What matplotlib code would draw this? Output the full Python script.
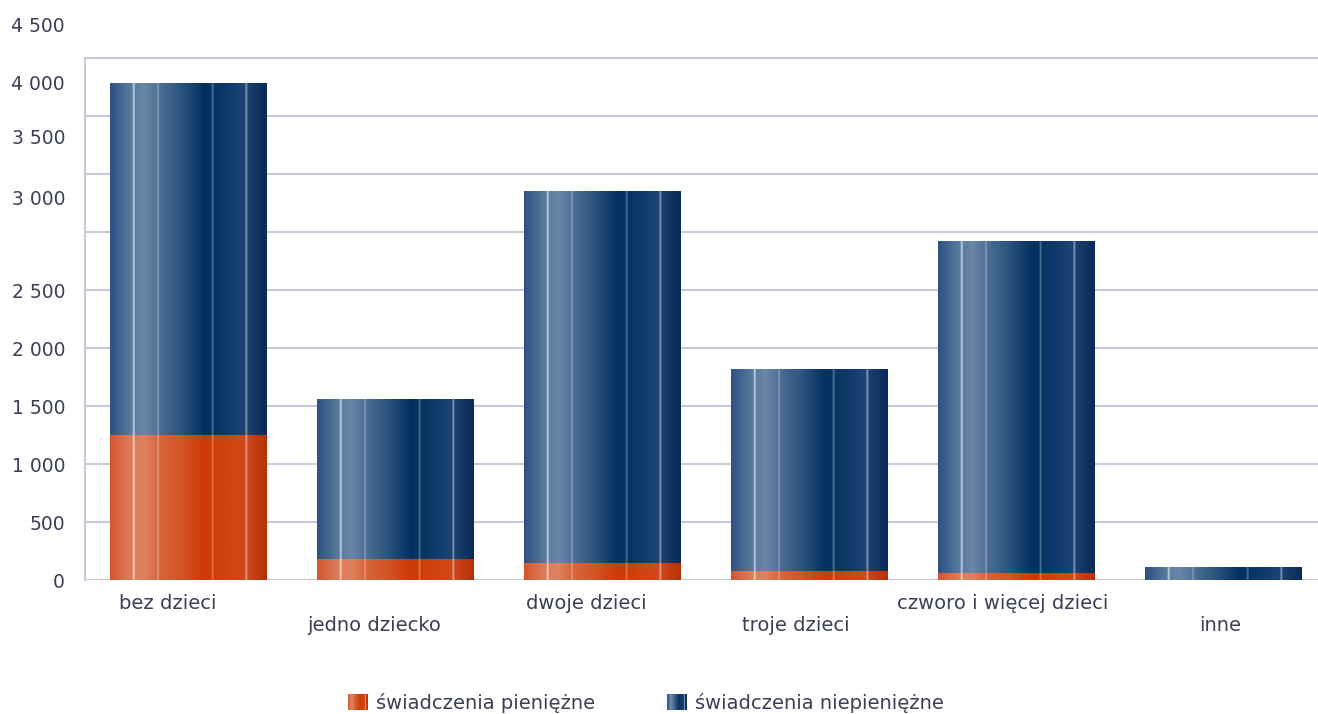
import numpy as np
import matplotlib
matplotlib.use("Agg")
import matplotlib.pyplot as plt
from matplotlib.colors import LinearSegmentedColormap
from matplotlib.legend_handler import HandlerBase
from matplotlib.patches import Rectangle
from matplotlib.transforms import offset_copy

# data (vertical scale = one gridline per 500)
categories = ["bez dzieci", "jedno dziecko", "dwoje dzieci", "troje dzieci",
              "czworo i więcej dzieci", "inne"]
pieniezne = [1250, 181, 147, 78, 60, 0]
niepieniezne = [3026, 1379, 3206, 1741, 2862, 112]
series_names = ["świadczenia pieniężne", "świadczenia niepieniężne"]

grid_vals = [0, 500, 1000, 1500, 2000, 2500, 3000, 3500, 4000, 4500]
tick_pos = [0, 500, 1000, 1500, 2000, 2500, 3300, 3820, 4290, 4790]
tick_labels = ["0", "500", "1 000", "1 500", "2 000", "2 500",
               "3 000", "3 500", "4 000", "4 500"]

TEXT = "#3b3f57"
GRID = "#c8c8da"
FS = 14

# horizontal gradient "cylinder" look with thin light stripes
blue_stops = [(0.0, "#2d5282"), (0.12, "#55779d"), (0.22, "#6a87a8"),
              (0.30, "#4f7196"), (0.45, "#2b5480"), (0.60, "#04305f"),
              (0.75, "#0e3a6b"), (0.86, "#1d4474"), (1.0, "#082b57")]
orange_stops = [(0.0, "#d4562f"), (0.12, "#dd7a58"), (0.22, "#df8160"),
                (0.30, "#d8673e"), (0.45, "#d45426"), (0.60, "#cc3a06"),
                (0.75, "#d0440f"), (0.86, "#d04a1c"), (1.0, "#b93106")]
stripes = [(0.15, 0.55), (0.305, 0.25), (0.655, 0.25), (0.87, 0.4)]


def gradient_img(stops, n=400):
    cmap = LinearSegmentedColormap.from_list("g", stops)
    x = np.linspace(0, 1, n)
    rgb = cmap(x)[:, :3]
    for pos, strength in stripes:
        idx = np.abs(x - pos) < 0.006
        rgb[idx] = rgb[idx] + (1 - rgb[idx]) * strength
    return rgb[np.newaxis, :, :]


blue_img = gradient_img(blue_stops)
orange_img = gradient_img(orange_stops)

fig = plt.figure(figsize=(13.18, 7.14), dpi=100)
ax = fig.add_axes([85 / 1318, 134 / 714, 1242 / 1318, 580 / 714])

for g in grid_vals:
    ax.axhline(g, color=GRID, lw=1.5, zorder=0)
ax.plot([-0.5, -0.5], [0, 4500], color=GRID, lw=1.5, zorder=0, clip_on=False)

x = np.arange(len(categories))
w = 0.758
b1 = ax.bar(x, pieniezne, w, color="none")
b2 = ax.bar(x, niepieniezne, w, bottom=pieniezne, color="none")
for bars, img in ((b1, orange_img), (b2, blue_img)):
    for p in bars:
        if p.get_height() <= 0:
            continue
        x0, y0 = p.get_x(), p.get_y()
        ax.imshow(img, extent=(x0, x0 + p.get_width(), y0, y0 + p.get_height()),
                  aspect="auto", interpolation="bilinear", zorder=2)
ax.set_xlim(-0.5, 5.5)
ax.set_ylim(0, 5000)

for s in ax.spines.values():
    s.set_visible(False)
ax.set_xticks([])
ax.set_yticks(tick_pos, tick_labels)
ax.tick_params(axis="y", length=0, pad=14.4, labelsize=13.5, labelcolor=TEXT)

# category labels sit a bit left of the bar centres in the original
shift_px = [-21, -21, -16, -14, -14, -3]
for i, c in enumerate(categories):
    off = -0.04 if i % 2 == 0 else -0.079
    tr = offset_copy(ax.get_xaxis_transform(), fig=fig, x=shift_px[i],
                     y=0, units="dots")
    ax.text(i, off, c, transform=tr, ha="center", va="center",
            fontsize=FS, color=TEXT)


class StripeHandler(HandlerBase):
    def __init__(self, img):
        super().__init__()
        self.img = img

    def create_artists(self, legend, orig_handle, xdescent, ydescent,
                       width, height, fontsize, trans):
        arts = []
        n = 12
        cols = self.img[0]
        for k in range(n):
            c = cols[int((k + 0.5) / n * (len(cols) - 1))]
            r = Rectangle((-xdescent + k * width / n, -ydescent - 1),
                          width / n + 0.05, height + 2, facecolor=c,
                          edgecolor="none", transform=trans)
            arts.append(r)
        return arts


h1 = Rectangle((0, 0), 1, 1)
h2 = Rectangle((0, 0), 1, 1)
leg = fig.legend([h1, h2], series_names, loc="center", ncol=2,
                 bbox_to_anchor=(646 / 1318, 1 - 703 / 714), frameon=False,
                 fontsize=FS, labelcolor=TEXT, handlelength=1.03,
                 handletextpad=0.41, columnspacing=3.7,
                 handler_map={h1: StripeHandler(orange_img),
                              h2: StripeHandler(blue_img)})

fig.savefig("out.png", dpi=100)
